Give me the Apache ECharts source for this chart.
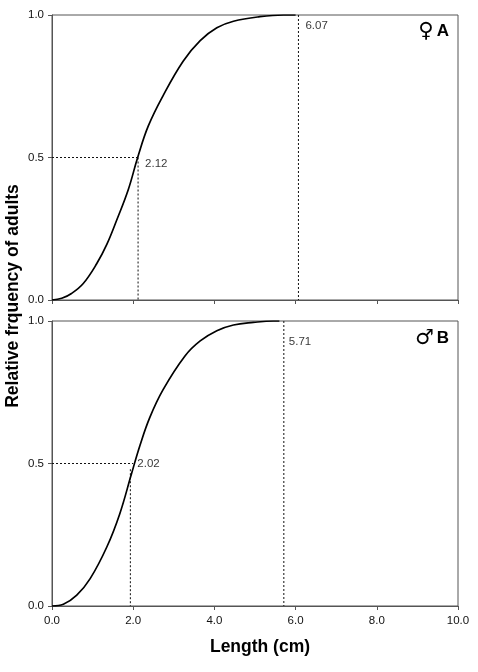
<!DOCTYPE html>
<html>
<head>
<meta charset="utf-8">
<script src="https://cdn.jsdelivr.net/npm/echarts@6/dist/echarts.min.js"></script>
<style>
  html, body { margin: 0; padding: 0; background: #fff; }
  #chart { width: 478px; height: 672px; }
</style>
</head>
<body>
<div id="chart"></div>
<script>
// x ticks / y ticks
const xTicks = [0, 2, 4, 6, 8, 10]
const yTicks = [0, 0.5, 1]

// female (A) cumulative curve: [length, frequency]
const femaleCurve = [
  [0, 0], [0.24, 0.006], [0.48, 0.023], [0.77, 0.058], [1.10, 0.127],
  [1.35, 0.195], [1.59, 0.279], [1.88, 0.388], [2.11, 0.5], [2.37, 0.61],
  [2.74, 0.718], [3.23, 0.838], [3.65, 0.910], [4.06, 0.955], [4.47, 0.978],
  [5.12, 0.994], [5.70, 1.0], [6.0, 1.0]
]
// male (B) cumulative curve
const maleCurve = [
  [0, 0], [0.28, 0.006], [0.61, 0.038], [0.94, 0.096], [1.35, 0.207],
  [1.67, 0.324], [1.96, 0.465], [2.17, 0.565], [2.41, 0.662], [2.74, 0.760],
  [3.28, 0.878], [3.65, 0.930], [4.06, 0.966], [4.47, 0.986], [4.96, 0.995],
  [5.45, 1.0], [5.6, 1.0]
]

// reference (dotted) lines
const femaleL50 = 2.12
const femaleMax = 6.07
const maleL50 = 2.02
const maleL50Line = 1.93   // where the vertical drop is drawn in the figure
const maleMax = 5.71

const femaleH = [[0, 0.5], [femaleL50, 0.5]]
const femaleV = [[femaleL50, 0.5], [femaleL50, 0]]
const femaleVMax = [[femaleMax, 1], [femaleMax, 0]]
const maleH = [[0, 0.5], [2.0, 0.5]]
const maleV = [[maleL50Line, 0.48], [maleL50Line, 0]]
const maleVMax = [[maleMax, 1], [maleMax, 0]]

const chart = echarts.init(document.getElementById('chart'))
const font = 'Liberation Sans, Arial, sans-serif'
const axisColor = '#555'

function xAxisFor (gridIndex, showLabels) {
  return {
    type: 'value', gridIndex: gridIndex, min: 0, max: 10, interval: 2,
    axisLine: { show: true, lineStyle: { color: axisColor, width: 1 } },
    axisTick: { show: true, inside: false, length: 4, lineStyle: { color: axisColor } },
    splitLine: { show: false },
    axisLabel: {
      show: showLabels, margin: 9, fontFamily: font, fontSize: 11.5, color: '#111',
      formatter: v => v.toFixed(1)
    }
  }
}
function yAxisFor (gridIndex) {
  return {
    type: 'value', gridIndex: gridIndex, min: 0, max: 1, interval: 0.5,
    axisLine: { show: true, lineStyle: { color: axisColor, width: 1 } },
    axisTick: { show: true, inside: false, length: 4, lineStyle: { color: axisColor } },
    splitLine: { show: false },
    axisLabel: {
      margin: 8, fontFamily: font, fontSize: 11.5, color: '#111',
      formatter: v => v.toFixed(1)
    }
  }
}
function dotted (data, idx) {
  return {
    type: 'line', xAxisIndex: idx, yAxisIndex: idx, data: data,
    symbol: 'none', silent: true,
    lineStyle: { color: '#111', width: 1, type: [2, 2] }
  }
}
function valueLabel (point, text, offset, idx) {
  return {
    type: 'scatter', xAxisIndex: idx, yAxisIndex: idx, symbolSize: 0,
    silent: true,
    data: [{ value: point, name: text }],
    label: {
      show: true, position: 'right', offset: offset, formatter: '{b}',
      fontFamily: font, fontSize: 11.5, color: '#000'
    }
  }
}
function panelTag (sym, letter, top) {
  return {
    text: '{s|' + sym + '}{l|' + letter + '}', right: 24, top: top,
    textStyle: {
      rich: {
        s: { fontFamily: 'DejaVu Sans', fontSize: 21, fontWeight: 'bold', color: '#000', padding: [0, 3, 0, 0] },
        l: { fontFamily: font, fontSize: 17, fontWeight: 'bold', color: '#000' }
      }
    }
  }
}

const option = {
  backgroundColor: '#fff',
  animation: false,
  grid: [
    { left: 52, top: 15, width: 406, height: 285, show: true, borderColor: axisColor, borderWidth: 1 },
    { left: 52, top: 321, width: 406, height: 285, show: true, borderColor: axisColor, borderWidth: 1 }
  ],
  xAxis: [xAxisFor(0, false), xAxisFor(1, true)],
  yAxis: [yAxisFor(0), yAxisFor(1)],
  title: [panelTag('♀', 'A', 16), panelTag('♂', 'B', 323)],
  graphic: [
    {
      type: 'text', x: 13, y: 296, rotation: Math.PI / 2,
      style: {
        text: 'Relative frquency of adults', font: 'bold 17.5px ' + font,
        fill: '#000', textAlign: 'center', textVerticalAlign: 'middle'
      }
    },
    {
      type: 'text', x: 260, y: 647,
      style: {
        text: 'Length (cm)', font: 'bold 17.5px ' + font,
        fill: '#000', textAlign: 'center', textVerticalAlign: 'middle'
      }
    }
  ],
  series: [
    dotted(femaleH, 0), dotted(femaleV, 0), dotted(femaleVMax, 0),
    dotted(maleH, 1), dotted(maleV, 1), dotted(maleVMax, 1),
    {
      type: 'line', xAxisIndex: 0, yAxisIndex: 0, data: femaleCurve,
      symbol: 'none', smooth: 0.4, lineStyle: { color: '#000', width: 1.7 }
    },
    {
      type: 'line', xAxisIndex: 1, yAxisIndex: 1, data: maleCurve,
      symbol: 'none', smooth: 0.4, lineStyle: { color: '#000', width: 1.7 }
    },
    valueLabel([femaleL50, 0.5], femaleL50.toFixed(2), [2, 6], 0),
    valueLabel([femaleMax, 1], femaleMax.toFixed(2), [2, 11], 0),
    valueLabel([maleL50Line, 0.5], maleL50.toFixed(2), [2, 0], 1),
    valueLabel([maleMax, 1], maleMax.toFixed(2), [0, 21], 1)
  ]
}
chart.setOption(option)
</script>
</body>
</html>
